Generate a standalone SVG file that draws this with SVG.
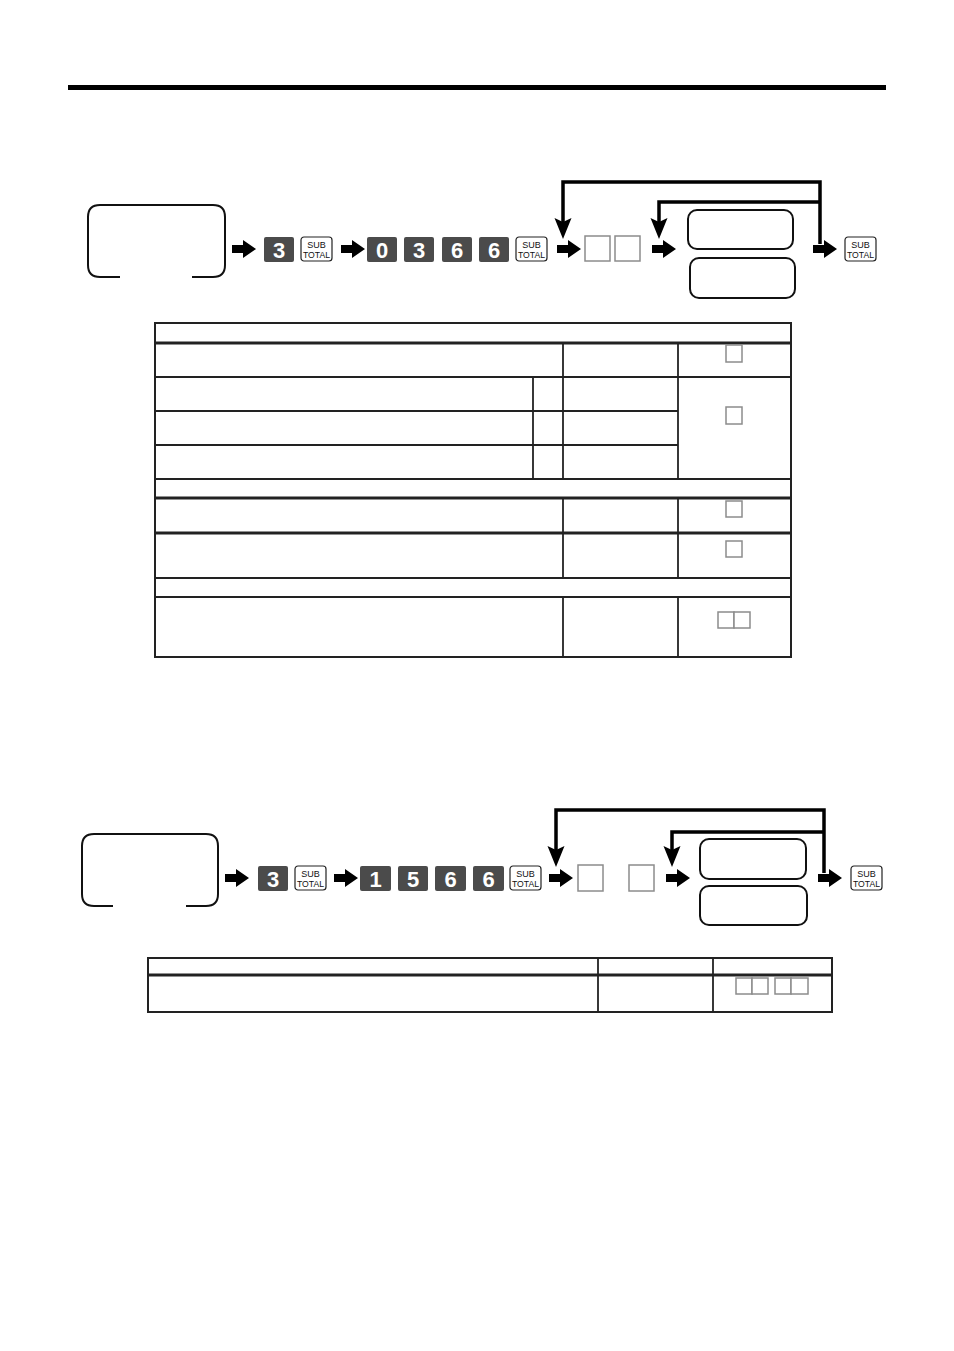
<svg xmlns="http://www.w3.org/2000/svg" width="954" height="1351" viewBox="0 0 954 1351">
<style>
.mode{fill:none;stroke:#111;stroke-width:2;stroke-linecap:butt}
.key{fill:#4b4b4b}
.dig{fill:#fff;font-family:"Liberation Sans",Arial,sans-serif;font-weight:bold;font-size:22px;text-anchor:middle}
.st{fill:#fff;stroke:#222;stroke-width:1.2}
.stt{fill:#111;font-family:"Liberation Sans",Arial,sans-serif;font-size:9px;text-anchor:middle}
.sq{fill:#fff;stroke:#8c8c8c;stroke-width:1.5}
.rb{fill:#fff;stroke:#111;stroke-width:2}
.loop{fill:none;stroke:#000;stroke-width:3.5}
.tb{fill:none;stroke:#222;stroke-width:2}
.tk{stroke:#222;stroke-width:3}
.tn{stroke:#222;stroke-width:1.8}
</style>
<defs>
<path id="arr" d="M0,-4 H11 V-9 L24,0 L11,9 V4 H0 Z" fill="#000"/>
<path id="dh" d="M-8.5,-21 L0,-17 L8.5,-21 L0,0 Z" fill="#000"/>
<g id="sub">
<rect class="st" x="0" y="0" width="31" height="24" rx="3"/>
<text class="stt" x="15.5" y="10.5">SUB</text>
<text class="stt" x="15.5" y="20.5" textLength="27" lengthAdjust="spacingAndGlyphs">TOTAL</text>
</g>
</defs>
<rect x="68" y="85" width="818" height="5" fill="#000"/>

<!-- Section 1 -->
<g id="mode1"><path class="mode" d="M120,277 H100 Q88,277 88,265 V217 Q88,205 100,205 H213 Q225,205 225,217 V265 Q225,277 213,277 H192"/></g>
<g id="k1_3"><rect class="key" x="264" y="237" width="30" height="25" rx="2"/><text class="dig" x="279" y="257.5">3</text></g>
<g id="k1_sub1"><use href="#sub" x="301" y="237"/></g>
<g id="k1_0"><rect class="key" x="367" y="237" width="30" height="25" rx="2"/><text class="dig" x="382" y="257.5">0</text></g>
<g id="k1_3b"><rect class="key" x="404" y="237" width="30" height="25" rx="2"/><text class="dig" x="419" y="257.5">3</text></g>
<g id="k1_6a"><rect class="key" x="442" y="237" width="30" height="25" rx="2"/><text class="dig" x="457" y="257.5">6</text></g>
<g id="k1_6b"><rect class="key" x="479" y="237" width="30" height="25" rx="2"/><text class="dig" x="494" y="257.5">6</text></g>
<g id="k1_sub2"><use href="#sub" x="516" y="237"/></g>
<g id="sq1"><rect class="sq" x="585" y="236" width="25" height="25"/><rect class="sq" x="615" y="236" width="25" height="25"/></g>
<g id="rb1a"><rect class="rb" x="688" y="210" width="105" height="39" rx="9"/></g>
<g id="rb1b"><rect class="rb" x="690" y="258" width="105" height="40" rx="9"/></g>
<g id="k1_sub3"><use href="#sub" x="845" y="237"/></g>

<!-- Section 2 -->
<g id="mode2"><path class="mode" d="M113,906 H94 Q82,906 82,894 V846 Q82,834 94,834 H206 Q218,834 218,846 V894 Q218,906 206,906 H186"/></g>
<g id="k2_3"><rect class="key" x="258" y="866" width="30" height="25" rx="2"/><text class="dig" x="273" y="886.5">3</text></g>
<g id="k2_sub1"><use href="#sub" x="295" y="866"/></g>
<g id="k2_1"><rect class="key" x="360" y="866" width="31" height="25" rx="2"/><text class="dig" x="375.5" y="886.5">1</text></g>
<g id="k2_5"><rect class="key" x="398" y="866" width="30" height="25" rx="2"/><text class="dig" x="413" y="886.5">5</text></g>
<g id="k2_6a"><rect class="key" x="435" y="866" width="31" height="25" rx="2"/><text class="dig" x="450.5" y="886.5">6</text></g>
<g id="k2_6b"><rect class="key" x="473" y="866" width="31" height="25" rx="2"/><text class="dig" x="488.5" y="886.5">6</text></g>
<g id="k2_sub2"><use href="#sub" x="510" y="866"/></g>
<g id="sq2"><rect class="sq" x="578" y="865" width="25" height="26"/><rect class="sq" x="629" y="865" width="25" height="26"/></g>
<g id="rb2a"><rect class="rb" x="700" y="839" width="106" height="40" rx="9"/></g>
<g id="rb2b"><rect class="rb" x="700" y="886" width="107" height="39" rx="9"/></g>
<g id="k2_sub3"><use href="#sub" x="851" y="866"/></g>

<!-- Connectors -->
<g id="connectors">
<use href="#arr" x="232" y="249"/>
<use href="#arr" x="341" y="249"/>
<use href="#arr" x="557" y="249"/>
<use href="#arr" x="652" y="249"/>
<use href="#arr" x="813" y="249"/>
<path class="loop" d="M820,244 V182 H563 V222"/>
<path class="loop" d="M820,202 H659 V222"/>
<use href="#dh" x="563" y="239"/>
<use href="#dh" x="659" y="239"/>

<use href="#arr" x="225" y="878"/>
<use href="#arr" x="334" y="878"/>
<use href="#arr" x="549" y="878"/>
<use href="#arr" x="666" y="878"/>
<use href="#arr" x="818" y="878"/>
<path class="loop" d="M824,873 V810 H556 V850"/>
<path class="loop" d="M824,832 H672 V850"/>
<use href="#dh" x="556" y="867"/>
<use href="#dh" x="672" y="867"/>
</g>

<!-- Table 1 -->
<g id="table1">
<rect class="tb" x="155" y="323" width="636" height="334"/>
<line class="tk" x1="155" y1="343" x2="791" y2="343"/>
<line class="tn" x1="155" y1="377" x2="791" y2="377"/>
<line class="tn" x1="155" y1="411" x2="678" y2="411"/>
<line class="tn" x1="155" y1="445" x2="678" y2="445"/>
<line class="tn" x1="155" y1="479" x2="791" y2="479"/>
<line class="tk" x1="155" y1="498" x2="791" y2="498"/>
<line class="tk" x1="155" y1="533" x2="791" y2="533"/>
<line class="tn" x1="155" y1="578" x2="791" y2="578"/>
<line class="tn" x1="155" y1="597" x2="791" y2="597"/>
<line class="tn" x1="563" y1="343" x2="563" y2="479"/>
<line class="tn" x1="563" y1="498" x2="563" y2="578"/>
<line class="tn" x1="563" y1="597" x2="563" y2="657"/>
<line class="tn" x1="678" y1="343" x2="678" y2="479"/>
<line class="tn" x1="678" y1="498" x2="678" y2="578"/>
<line class="tn" x1="678" y1="597" x2="678" y2="657"/>
<line class="tn" x1="533" y1="377" x2="533" y2="479"/>
<rect class="sq" x="726" y="345" width="16" height="17"/>
<rect class="sq" x="726" y="407" width="16" height="17"/>
<rect class="sq" x="726" y="501" width="16" height="16"/>
<rect class="sq" x="726" y="541" width="16" height="16"/>
<rect class="sq" x="718" y="612" width="16" height="16"/>
<rect class="sq" x="734" y="612" width="16" height="16"/>
</g>

<!-- Table 2 -->
<g id="table2">
<rect class="tb" x="148" y="958" width="684" height="54"/>
<line class="tk" x1="148" y1="975" x2="832" y2="975"/>
<line class="tn" x1="598" y1="958" x2="598" y2="1012"/>
<line class="tn" x1="713" y1="958" x2="713" y2="1012"/>
<rect class="sq" x="736" y="978" width="16" height="16"/>
<rect class="sq" x="752" y="978" width="16" height="16"/>
<rect class="sq" x="775" y="978" width="16" height="16"/>
<rect class="sq" x="791" y="978" width="17" height="16"/>
</g>
</svg>
